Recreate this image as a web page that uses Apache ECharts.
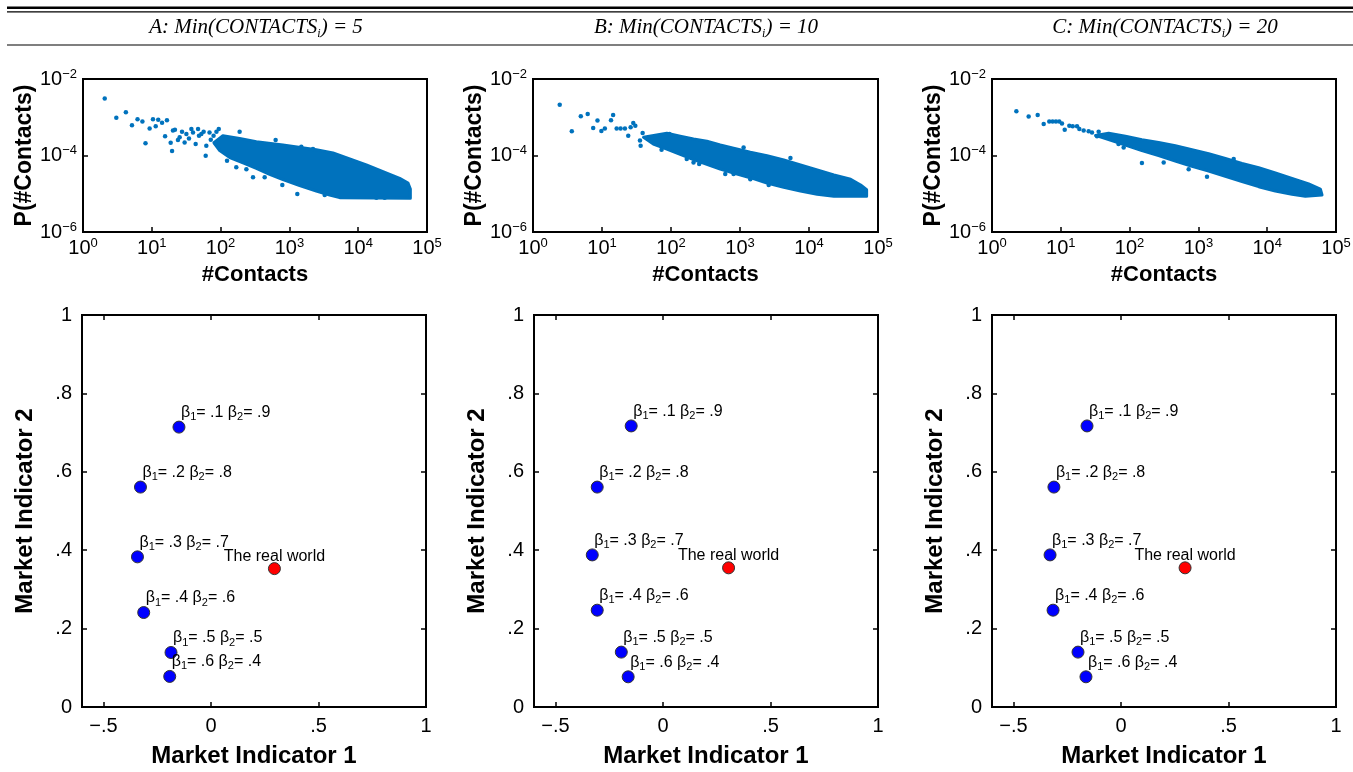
<!DOCTYPE html>
<html><head><meta charset="utf-8">
<script src="https://cdn.jsdelivr.net/npm/echarts@6/dist/echarts.min.js"></script>
<style>html,body{margin:0;padding:0;background:#fff}#c{width:1353px;height:772px}</style>
</head><body><div id="c"></div>
<script>
// ---------- data ----------
const panelLetters = ['A', 'B', 'C'];
const minContacts = [5, 10, 20];

// log-log degree distributions: dense band outlines [#contacts, P]
const bandA = [[80,2.15e-4],[108,3.3e-4],[189,2.8e-4],[331,2.3e-4],[807,1.88e-4],[2462,1.42e-4],[4305,1.16e-4],[7516,8.1e-5],[13130,5.65e-5],[22910,3.78e-5],[40090,2.53e-5],[52970,1.91e-5],[57280,1.33e-5],[57280,7.6e-6],[5380,7.9e-6],[3848,9.3e-6],[2462,1.18e-5],[1410,1.63e-5],[807,2.33e-5],[517,3.22e-5],[331,4.6e-5],[212,6.4e-5],[136,8.8e-5],[97,1.34e-4]];
const bandB = [[40,3.0e-4],[87,3.8e-4],[136,3.2e-4],[212,2.7e-4],[331,2.35e-4],[517,1.88e-4],[807,1.54e-4],[1410,1.21e-4],[2462,9.9e-5],[4305,7.6e-5],[7516,5.65e-5],[13130,4.18e-5],[22910,3.09e-5],[40090,2.4e-5],[55990,1.7e-5],[68400,1.28e-5],[68400,8.6e-6],[22910,8.6e-6],[13130,9.7e-6],[7516,1.18e-5],[4305,1.47e-5],[2462,1.91e-5],[1410,2.63e-5],[807,3.49e-5],[517,4.4e-5],[331,5.9e-5],[212,7.8e-5],[136,1.07e-4],[87,1.48e-4],[55.5,2.0e-4]];
const bandC = [[32,3.35e-4],[49.6,3.8e-4],[87,3.2e-4],[151,2.6e-4],[264,2.2e-4],[462,1.8e-4],[807,1.42e-4],[1410,1.12e-4],[2462,8.4e-5],[4305,6.2e-5],[7516,4.8e-5],[13130,3.5e-5],[22910,2.53e-5],[40090,1.8e-5],[59200,1.33e-5],[62640,9.3e-6],[35840,8.6e-6],[22910,9.7e-6],[13130,1.18e-5],[7516,1.53e-5],[4305,2.07e-5],[2462,2.85e-5],[1410,3.93e-5],[807,5.2e-5],[462,7.2e-5],[264,9.9e-5],[151,1.34e-4],[87,1.88e-4],[49.6,2.6e-4]];

// isolated points [#contacts, P]
const sparseA = [[2.07,3.1e-3],[3.05,9.7e-4],[4.2,1.35e-3],[5.15,6.2e-4],[6.2,8.8e-4],[7.3,7.8e-4],[8.1,2.1e-4],[9.3,5.1e-4],[10.4,8.8e-4],[11.4,5.8e-4],[12.4,8.6e-4],[14.1,7.2e-4],[16.6,8.3e-4],[15.6,3.2e-4],[18.8,2.15e-4],[19.7,1.31e-4],[20.3,4.5e-4],[21.7,4.7e-4],[24,2.55e-4],[25.4,3.0e-4],[27.5,4.2e-4],[30,2.2e-4],[31.8,3.65e-4],[34.7,2.8e-4],[37.6,4.9e-4],[39.7,4.0e-4],[43.4,2.0e-4],[47,4.9e-4],[48.5,3.3e-4],[52.5,3.65e-4],[56.7,4.2e-4],[60.7,9.9e-5],[62,1.8e-4],[69,4.0e-4],[72,2.6e-4],[79,3.3e-4],[85,2.1e-4],[87,4.2e-4],[94,4.9e-4],[124,7.3e-5],[169,4.9e-5],[189,4.2e-4],[237,4.4e-5],[296,2.7e-5],[437,2.7e-5],[631,2.55e-4],[789,1.7e-5],[1304,9.8e-6],[1490,1.7e-4],[2203,1.48e-4],[3258,9.3e-6],[18360,7.9e-6],[24260,7.9e-6]];
const sparseB = [[2.44,2.13e-3],[3.65,4.3e-4],[4.93,1.06e-3],[6.2,1.22e-3],[7.45,5.2e-4],[8.6,8.2e-4],[9.8,4.4e-4],[11,5.1e-4],[13.5,8.3e-4],[14.5,1.15e-3],[16.3,5.1e-4],[18.6,5.1e-4],[21.5,5.1e-4],[24,3.3e-4],[26,5.45e-4],[28.4,7.1e-4],[30.4,6.0e-4],[35.5,2.45e-4],[36.3,1.8e-4],[38.8,3.9e-4],[47,2.8e-4],[73,1.42e-4],[95,3.65e-4],[169,8.1e-5],[212,6.6e-5],[256,6.0e-5],[611,3.28e-5],[807,3.28e-5],[1128,1.63e-4],[1410,2.4e-5],[2605,1.7e-5],[5380,8.6e-5]];
const sparseC = [[2.26,1.43e-3],[3.41,1.04e-3],[4.61,1.15e-3],[5.64,6.7e-4],[6.8,7.7e-4],[7.6,7.7e-4],[8.5,7.7e-4],[9.5,7.7e-4],[10.4,6.9e-4],[11.4,4.7e-4],[13.3,6.0e-4],[14.9,5.8e-4],[17.2,5.8e-4],[18.6,4.9e-4],[21.5,4.5e-4],[25.4,4.3e-4],[28.4,4.0e-4],[33.6,3.2e-4],[35.5,4.2e-4],[69,2.0e-4],[82,1.63e-4],[121,2.45e-4],[151,6.4e-5],[313,6.6e-5],[722,4.4e-5],[1334,2.8e-5],[3258,8.1e-5]];

// market indicators
const beta1 = [0.1, 0.2, 0.3, 0.4, 0.5, 0.6];
const beta2 = [0.9, 0.8, 0.7, 0.6, 0.5, 0.4];
const mi1A = [-0.149, -0.328, -0.342, -0.313, -0.186, -0.192];
const mi2A = [0.714, 0.561, 0.383, 0.241, 0.139, 0.078];
const mi1B = [-0.148, -0.306, -0.329, -0.306, -0.194, -0.162];
const mi2B = [0.717, 0.561, 0.388, 0.247, 0.140, 0.077];
const mi1C = [-0.158, -0.312, -0.330, -0.316, -0.200, -0.163];
const mi2C = [0.717, 0.561, 0.388, 0.247, 0.140, 0.077];
const realA = [0.295, 0.353];
const realB = [0.305, 0.355];
const realC = [0.298, 0.355];
const realLabel = 'The real world';

// tick labels
const xTickVals = [-0.5, 0, 0.5, 1];
const xTickLabels = ['\u2212.5', '0', '.5', '1'];
const yTickVals = [0, 0.2, 0.4, 0.6, 0.8, 1];
const yTickLabels = ['0', '.2', '.4', '.6', '.8', '1'];
const logXLabelVals = [1, 10, 100, 1000, 10000, 100000];
const logYLabelVals = [1e-6, 1e-4, 1e-2];

// ---------- build ----------
const FONT = '"Liberation Sans", Arial, Helvetica, sans-serif';
const SERIF = '"Liberation Serif", "Times New Roman", serif';
const BLUE = '#0072BD';
const bands = [bandA, bandB, bandC];
const sparses = [sparseA, sparseB, sparseC];
const mi1s = [mi1A, mi1B, mi1C];
const mi2s = [mi2A, mi2B, mi2C];
const reals = [realA, realB, realC];

const topGrids = [{left:83, top:79, width:344, height:153},{left:533, top:79, width:345, height:153},{left:992, top:79, width:344, height:153}];
const botGrids = [{left:82, top:315, width:344, height:392},{left:534, top:315, width:344, height:392},{left:992, top:315, width:344, height:392}];
const titleCx = [256, 706, 1165];

const tickStyle = {inside:true, length:5, lineStyle:{color:'#000', width:1.5}};
const noLine = {show:false, onZero:false};
const powRich = {
  b:{fontFamily:FONT, fontSize:20, color:'#000', lineHeight:23},
  e:{fontFamily:FONT, fontSize:13, color:'#000', lineHeight:13, verticalAlign:'top'}
};
function powLabel(v){
  const e = Math.round(Math.log10(v));
  return '{b|10}{e|' + (e < 0 ? '\u2212' : '') + Math.abs(e) + '}';
}
const nameStyle = (fs) => ({fontFamily:FONT, fontWeight:'bold', fontSize:fs, color:'#000'});
const fmtB = v => String(v).replace(/^0/, '');
const betaRich = {
  n:{fontFamily:FONT, fontSize:16, color:'#000', lineHeight:20},
  s:{fontFamily:FONT, fontSize:11, color:'#000', lineHeight:10, verticalAlign:'bottom'}
};

const grids = [], xAxes = [], yAxes = [], series = [], graphics = [];
[...topGrids, ...botGrids].forEach(g => grids.push(Object.assign({show:true, borderColor:'#000', borderWidth:2, backgroundColor:'rgba(0,0,0,0)', containLabel:false, outerBoundsMode:'none'}, g)));

for (let i = 0; i < 3; i++) {
  // ---- top panel (grid i) ----
  const xi = xAxes.length;
  xAxes.push({type:'log', logBase:10, gridIndex:i, min:1, max:1e5,
    axisLine:noLine, splitLine:{show:false}, axisTick:tickStyle,
    axisLabel:{margin:5, formatter:powLabel, rich:powRich, customValues:logXLabelVals},
    name:'#Contacts', nameLocation:'middle', nameGap:32, nameTextStyle:nameStyle(22)});
  const yi = yAxes.length;
  yAxes.push({type:'log', logBase:10, gridIndex:i, min:1e-6, max:1e-2,
    axisLine:noLine, splitLine:{show:false},
    axisTick:Object.assign({customValues:logYLabelVals}, tickStyle),
    axisLabel:{margin:6, formatter:powLabel, rich:powRich, customValues:logYLabelVals},
    name:'P(#Contacts)', nameLocation:'middle', nameGap:47, nameTextStyle:nameStyle(23)});
  const band = bands[i];
  series.push({type:'custom', xAxisIndex:xi, yAxisIndex:yi, data:band, silent:true,
    renderItem:function(params, api){
      if (params.dataIndex !== 0) return null;
      const pts = band.map(d => api.coord(d));
      return {type:'polygon', shape:{points:pts}, style:{fill:BLUE, stroke:BLUE, lineWidth:3, lineJoin:'round'}};
    }});
  series.push({type:'scatter', xAxisIndex:xi, yAxisIndex:yi, data:sparses[i], symbolSize:4.5,
    itemStyle:{color:BLUE, opacity:1}, silent:true});

  // ---- bottom panel (grid 3+i) ----
  const gi = 3 + i;
  const bx = xAxes.length;
  xAxes.push({type:'value', gridIndex:gi, min:-0.6, max:1, position:'bottom',
    axisLine:noLine, splitLine:{show:false},
    axisTick:Object.assign({customValues:[-0.5, 0, 0.5]}, tickStyle),
    axisLabel:{margin:9, customValues:xTickVals, fontFamily:FONT, fontSize:20, color:'#000',
      formatter:v => xTickLabels[xTickVals.findIndex(t => Math.abs(t - v) < 1e-9)] || ''},
    name:'Market Indicator 1', nameLocation:'middle', nameGap:37, nameTextStyle:nameStyle(24)});
  xAxes.push({type:'value', gridIndex:gi, min:-0.6, max:1, position:'top',
    axisLine:noLine, splitLine:{show:false},
    axisTick:Object.assign({customValues:[-0.5, 0, 0.5]}, tickStyle), axisLabel:{show:false}});
  const by = yAxes.length;
  yAxes.push({type:'value', gridIndex:gi, min:0, max:1, interval:0.2, position:'left',
    axisLine:noLine, splitLine:{show:false}, axisTick:tickStyle,
    axisLabel:{margin:10, fontFamily:FONT, fontSize:20, color:'#000',
      formatter:v => yTickLabels[yTickVals.findIndex(t => Math.abs(t - v) < 1e-9)] || ''},
    name:'Market Indicator 2', nameLocation:'middle', nameGap:45, nameTextStyle:nameStyle(24)});
  yAxes.push({type:'value', gridIndex:gi, min:0, max:1, interval:0.2, position:'right',
    axisLine:noLine, splitLine:{show:false}, axisTick:tickStyle, axisLabel:{show:false}});

  const pts = mi1s[i].map((x, k) => ({
    value:[x, mi2s[i][k]],
    label:{formatter:'{n|\u03b2}{s|1}{n|= ' + fmtB(beta1[k]) + ' \u03b2}{s|2}{n|= ' + fmtB(beta2[k]) + '}'}
  }));
  series.push({type:'scatter', xAxisIndex:bx, yAxisIndex:by, data:pts, symbolSize:12,
    itemStyle:{color:'#0000FF', borderColor:'#333', borderWidth:1, opacity:1},
    label:{show:true, position:'top', distance:0, align:'left', offset:[2, 2], color:'#000', rich:betaRich}, silent:true});
  series.push({type:'scatter', xAxisIndex:bx, yAxisIndex:by, data:[reals[i]], symbolSize:12,
    itemStyle:{color:'#FF0000', borderColor:'#333', borderWidth:1, opacity:1},
    label:{show:true, position:'top', distance:0, offset:[0, 2], formatter:realLabel,
      fontFamily:FONT, fontSize:16, color:'#000'}, silent:true});

  // ---- header title ----
  graphics.push({type:'text', x:titleCx[i], y:27, silent:true,
    style:{text:'{t|' + panelLetters[i] + ': Min(CONTACTS}{s|i}{t|) = ' + minContacts[i] + '}',
      textAlign:'center', textVerticalAlign:'middle',
      rich:{t:{fontFamily:SERIF, fontStyle:'italic', fontSize:21, fill:'#000', color:'#000', lineHeight:25},
            s:{fontFamily:SERIF, fontStyle:'italic', fontSize:12, fill:'#000', color:'#000', lineHeight:12, verticalAlign:'bottom'}}}});
}
// header rules
graphics.push({type:'line', silent:true, shape:{x1:7, y1:7.8, x2:1353, y2:7.8}, style:{stroke:'#000', lineWidth:2.5}});
graphics.push({type:'line', silent:true, shape:{x1:7, y1:11.8, x2:1353, y2:11.8}, style:{stroke:'#000', lineWidth:1.3}});
graphics.push({type:'line', silent:true, shape:{x1:7, y1:45, x2:1353, y2:45}, style:{stroke:'#000', lineWidth:1.2}});

const chart = echarts.init(document.getElementById('c'), null, {renderer:'canvas'});
chart.setOption({animation:false, backgroundColor:'#fff', grid:grids, xAxis:xAxes, yAxis:yAxes, series:series, graphic:graphics});
</script></body></html>
